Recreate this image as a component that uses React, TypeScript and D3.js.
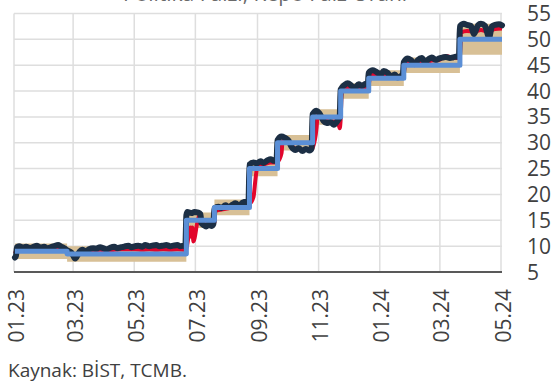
import React from "react";
import * as d3 from "d3";

const W = 553;
const H = 383;

const titleText = "Politika Faizi, Repo Faiz Oranı";
const sourceText = "Kaynak: BİST, TCMB.";

const yTicks = [5, 10, 15, 20, 25, 30, 35, 40, 45, 50, 55];
const xTickDates = ["2023-01-01", "2023-03-01", "2023-05-01", "2023-07-01", "2023-09-01", "2023-11-01", "2024-01-01", "2024-03-01", "2024-05-01"];
const xTickLabels = ["01.23", "03.23", "05.23", "07.23", "09.23", "11.23", "01.24", "03.24", "05.24"];

// Policy rate (one-week repo) steps
const policyDates = ["2023-01-02", "2023-02-23", "2023-06-22", "2023-07-20", "2023-08-24", "2023-09-21", "2023-10-26", "2023-11-23", "2023-12-21", "2024-01-25", "2024-03-21", "2024-05-02"];
const policyValues = [9, 8.5, 15, 17.5, 25, 30, 35, 40, 42.5, 45, 50, 50];
// Corridor (overnight borrowing / lending)
const corridorLow = [7.5, 7, 13.5, 16, 23.5, 28.5, 33.5, 38.5, 41, 43.5, 47, 47];
const corridorHigh = [10.5, 10, 16.5, 19, 26.5, 31.5, 36.5, 41.5, 44, 46.5, 53, 53];

// BIST overnight repo rate
const bistDates = [
  "2023-01-02", "2023-01-03", "2023-01-04", "2023-01-06", "2023-01-10", "2023-01-13", "2023-01-17", "2023-01-20", "2023-01-24", "2023-01-27",
  "2023-01-31", "2023-02-03", "2023-02-07", "2023-02-10", "2023-02-14", "2023-02-17", "2023-02-21", "2023-02-23", "2023-02-27", "2023-03-01",
  "2023-03-03", "2023-03-07", "2023-03-10", "2023-03-14", "2023-03-17", "2023-03-21", "2023-03-24", "2023-03-28", "2023-03-31", "2023-04-04",
  "2023-04-07", "2023-04-11", "2023-04-14", "2023-04-18", "2023-04-21", "2023-04-25", "2023-04-28", "2023-05-02", "2023-05-05", "2023-05-09",
  "2023-05-12", "2023-05-16", "2023-05-19", "2023-05-23", "2023-05-26", "2023-05-30", "2023-06-02", "2023-06-06", "2023-06-09", "2023-06-13",
  "2023-06-16", "2023-06-20", "2023-06-21", "2023-06-22", "2023-06-23", "2023-06-27", "2023-06-30", "2023-07-04", "2023-07-06", "2023-07-07",
  "2023-07-10", "2023-07-12", "2023-07-14", "2023-07-17", "2023-07-19", "2023-07-20", "2023-07-24", "2023-07-27", "2023-07-31", "2023-08-03",
  "2023-08-07", "2023-08-10", "2023-08-14", "2023-08-17", "2023-08-21", "2023-08-23", "2023-08-24", "2023-08-28", "2023-08-31", "2023-09-04",
  "2023-09-07", "2023-09-11", "2023-09-14", "2023-09-18", "2023-09-20", "2023-09-21", "2023-09-25", "2023-09-28", "2023-10-02", "2023-10-05",
  "2023-10-09", "2023-10-12", "2023-10-16", "2023-10-19", "2023-10-23", "2023-10-25", "2023-10-26", "2023-10-30", "2023-11-02", "2023-11-06",
  "2023-11-09", "2023-11-13", "2023-11-16", "2023-11-20", "2023-11-22", "2023-11-23", "2023-11-27", "2023-11-30", "2023-12-04", "2023-12-07",
  "2023-12-11", "2023-12-14", "2023-12-18", "2023-12-20", "2023-12-21", "2023-12-25", "2023-12-28", "2024-01-02", "2024-01-05", "2024-01-09",
  "2024-01-12", "2024-01-16", "2024-01-19", "2024-01-23", "2024-01-24", "2024-01-25", "2024-01-29", "2024-02-01", "2024-02-05", "2024-02-08",
  "2024-02-12", "2024-02-15", "2024-02-19", "2024-02-22", "2024-02-26", "2024-02-29", "2024-03-04", "2024-03-07", "2024-03-11", "2024-03-14",
  "2024-03-18", "2024-03-20", "2024-03-21", "2024-03-25", "2024-03-28", "2024-04-01", "2024-04-04", "2024-04-08", "2024-04-11", "2024-04-15",
  "2024-04-18", "2024-04-19", "2024-04-22", "2024-04-25", "2024-04-29", "2024-05-02"
];
const bistValues = [
  7.8, 8.2, 9.8, 10.0, 9.7, 9.9, 9.6, 9.8, 10.1, 9.7,
  9.9, 9.6, 9.8, 10.0, 10.2, 9.9, 9.5, 9.2, 8.8, 8.2,
  7.6, 8.8, 9.3, 9.0, 9.4, 9.6, 9.5, 9.8, 9.6, 9.4,
  9.7, 9.9, 9.6, 9.8, 9.9, 10.1, 9.8, 10.0, 10.1, 9.9,
  10.2, 10.0, 10.1, 10.2, 10.0, 10.1, 10.2, 10.0, 10.1, 10.2,
  10.0, 10.1, 9.9, 16.0, 16.6, 16.4, 16.6, 16.5, 16.2, 14.5,
  14.0, 13.8, 14.2, 13.9, 14.3, 17.3, 17.6, 17.4, 17.9, 17.6,
  18.0, 18.3, 17.8, 18.4, 18.6, 18.5, 25.8, 26.2, 26.0, 26.4,
  26.1, 26.6, 26.8, 26.5, 26.7, 30.5, 31.2, 31.0, 30.4, 29.2,
  28.6, 29.0, 28.4, 28.8, 28.5, 28.9, 35.5, 36.2, 35.6, 34.2,
  33.8, 34.0, 33.5, 34.3, 35.0, 40.3, 41.2, 41.5, 41.0, 40.6,
  41.3, 41.0, 41.4, 41.2, 43.5, 44.0, 43.8, 43.2, 43.9, 43.5,
  42.8, 43.2, 42.6, 43.0, 43.1, 45.6, 46.3, 46.0, 45.2, 46.0,
  46.4, 45.6, 46.2, 46.5, 46.0, 46.3, 46.5, 46.6, 46.4, 46.5,
  46.7, 46.6, 52.5, 53.0, 52.8, 52.6, 51.0, 52.7, 53.0, 52.6,
  50.8, 50.3, 52.5, 52.8, 52.9, 52.7
];

// TLREF-like overnight reference rate
const refDates = [
  "2023-01-02", "2023-01-04", "2023-01-10", "2023-01-17", "2023-01-24", "2023-01-31", "2023-02-07", "2023-02-14", "2023-02-21", "2023-02-27",
  "2023-03-03", "2023-03-07", "2023-03-14", "2023-03-21", "2023-03-28", "2023-04-04", "2023-04-11", "2023-04-18", "2023-04-25", "2023-05-02",
  "2023-05-09", "2023-05-16", "2023-05-23", "2023-05-30", "2023-06-06", "2023-06-13", "2023-06-21", "2023-06-22", "2023-06-26", "2023-06-27",
  "2023-06-28", "2023-06-29", "2023-07-03", "2023-07-05", "2023-07-07", "2023-07-12", "2023-07-19", "2023-07-20", "2023-07-21", "2023-07-27",
  "2023-08-03", "2023-08-10", "2023-08-17", "2023-08-24", "2023-08-28", "2023-08-30", "2023-09-01", "2023-09-07", "2023-09-14", "2023-09-20",
  "2023-09-21", "2023-09-25", "2023-09-26", "2023-10-02", "2023-10-09", "2023-10-16", "2023-10-25", "2023-10-26", "2023-10-30", "2023-10-31",
  "2023-11-06", "2023-11-13", "2023-11-20", "2023-11-22", "2023-11-23", "2023-11-24", "2023-11-30", "2023-12-07", "2023-12-14", "2023-12-20",
  "2023-12-21", "2023-12-22", "2023-12-28", "2024-01-05", "2024-01-12", "2024-01-19", "2024-01-24", "2024-01-25", "2024-01-26", "2024-02-01",
  "2024-02-08", "2024-02-15", "2024-02-22", "2024-02-29", "2024-03-07", "2024-03-14", "2024-03-20", "2024-03-21", "2024-03-22", "2024-03-28",
  "2024-04-04", "2024-04-11", "2024-04-18", "2024-04-25", "2024-05-02"
];
const refValues = [
  8.6, 9.3, 9.4, 9.3, 9.5, 9.4, 9.4, 9.6, 9.2, 8.7,
  8.2, 8.7, 8.9, 9.1, 9.3, 9.1, 9.3, 9.4, 9.4, 9.4,
  9.3, 9.4, 9.3, 9.4, 9.3, 9.4, 9.3, 9.5, 13.6, 11.8,
  13.6, 10.9, 14.6, 16.0, 15.0, 14.2, 14.3, 14.6, 16.8, 17.1,
  17.3, 17.8, 18.0, 18.2, 19.5, 23.0, 25.5, 25.8, 26.2, 26.2,
  26.3, 28.0, 30.3, 30.0, 28.8, 28.6, 28.7, 29.0, 33.0, 35.2,
  34.5, 34.0, 34.2, 32.8, 34.5, 40.0, 40.8, 40.5, 40.7, 40.8,
  41.0, 42.8, 43.2, 43.1, 42.8, 42.8, 42.9, 43.2, 45.4, 45.6,
  45.6, 45.4, 45.9, 46.0, 46.8, 46.4, 46.4, 47.0, 51.3, 51.6,
  51.5, 51.8, 51.5, 52.0, 52.1
];

const FONT = "'Open Sans', 'Noto Sans', sans-serif";

export default function App() {
  const parse = d3.timeParse("%Y-%m-%d");
  const x = d3.scaleTime().domain([parse("2023-01-01")!, parse("2024-05-01")!]).range([14, 501]);
  const y = d3.scaleLinear().domain([5, 55]).range([272, 13.5]);
  const left = 14;
  const right = 502;

  const policy = policyDates.map((d, i) => ({ d: parse(d)!, v: policyValues[i], lo: corridorLow[i], hi: corridorHigh[i] }));
  const bist = bistDates.map((d, i) => ({ d: parse(d)!, v: bistValues[i] }));
  const ref = refDates.map((d, i) => ({ d: parse(d)!, v: refValues[i] }));

  const band = d3.area<any>().x((p) => x(p.d)).y0((p) => y(p.lo)).y1((p) => y(p.hi)).curve(d3.curveStepAfter);
  const stepLine = d3.line<any>().x((p) => x(p.d)).y((p) => y(p.v)).curve(d3.curveStepAfter);
  const line = d3.line<any>().x((p) => x(p.d)).y((p) => y(p.v)).curve(d3.curveMonotoneX);

  return (
    <svg width={W} height={H} style={{ position: "absolute", left: 0, top: 0, display: "block", background: "#fff" }} fontFamily={FONT}>
      <text x={265} y={1} textAnchor="middle" fontSize={21} fill="#6a6a6a">{titleText}</text>
      {yTicks.map((t) => (
        <line key={"h" + t} x1={left} x2={right} y1={y(t)} y2={y(t)} stroke="#dedede" strokeWidth={1.5} />
      ))}
      {xTickDates.map((d) => (
        <line key={"v" + d} x1={x(parse(d)!)} x2={x(parse(d)!)} y1={y(55)} y2={y(5)} stroke="#dedede" strokeWidth={1.5} />
      ))}
      <path d={band(policy) || ""} fill="#d8c096" />
      <path d={line(ref) || ""} fill="none" stroke="#e2062c" strokeWidth={4} strokeLinejoin="round" />
      <path d={line(bist) || ""} fill="none" stroke="#1c2f45" strokeWidth={6} strokeLinejoin="round" strokeLinecap="round" />
      <path d={stepLine(policy) || ""} fill="none" stroke="#5b8fd6" strokeWidth={5} strokeLinejoin="round" />
      <line x1={left} x2={right} y1={y(5)} y2={y(5)} stroke="#595959" strokeWidth={2} />
      {yTicks.map((t) => (
        <text key={"yl" + t} x={527} y={y(t)} dy="0.36em" fontSize={21} fill="#404040">{t}</text>
      ))}
      {xTickDates.map((d, i) => (
        <text key={"xl" + d} transform={`translate(${x(parse(d)!) + 2},289) rotate(-90)`} dy="0.36em" textAnchor="end" fontSize={21} fill="#404040">{xTickLabels[i]}</text>
      ))}
      <text x={8} y={377} fontSize={19} fill="#404040">{sourceText}</text>
    </svg>
  );
}
